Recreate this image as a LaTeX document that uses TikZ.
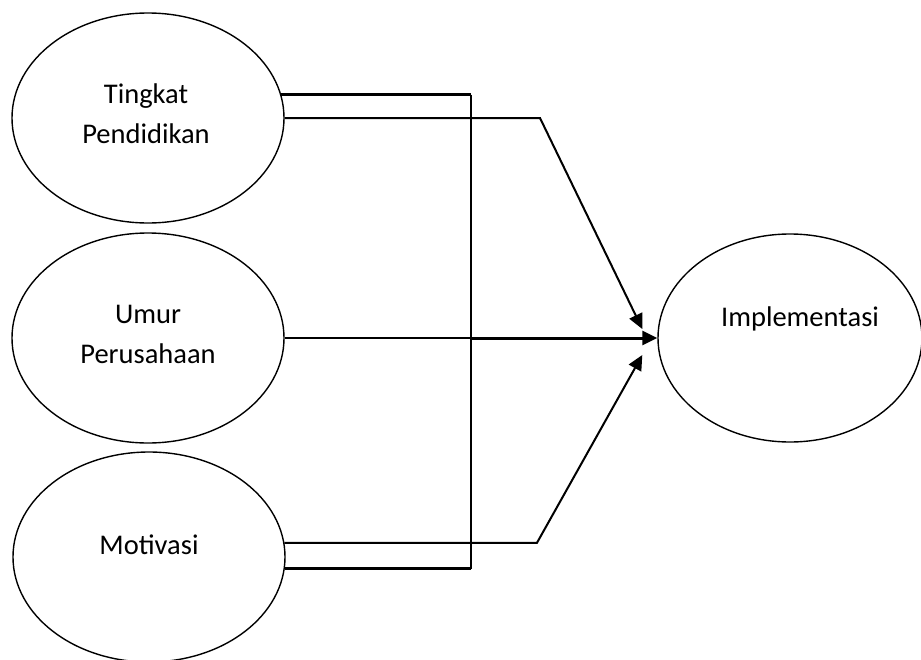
\documentclass[tikz,border=0pt]{standalone}
\usepackage{fontspec}
\setmainfont{Carlito}
\usetikzlibrary{shapes.geometric,arrows.meta,calc}
\begin{document}
\begin{tikzpicture}[x=1pt,y=-1pt,
  oval/.style={draw,ellipse,line width=1.4pt,minimum width=272pt,minimum height=210pt,inner sep=0pt},
  lbl/.style={font=\fontsize{28.5}{40}\selectfont,align=center,inner sep=0pt},
  thin/.style={line width=2pt},
  thk/.style={line width=3pt},
  arr/.style={-{Triangle[length=15pt,width=14pt]}}]
\useasboundingbox (0,0) rectangle (921,659);
\node[oval] (T) at (148,118) {};
\node[oval] (U) at (148,338) {};
\node[oval] (M) at (149,557) {};
\node[oval,minimum width=264pt,minimum height=208pt] (I) at (790,338) {};
\node[lbl] (tT) at (146,114) {Tingkat\\Pendidikan};
\node[lbl] (tU) at (148,334) {Umur\\Perusahaan};
\node[lbl] (tM) at (149,545) {Motivasi};
\node[lbl] (tI) at (800,319) {Implementasi};
\coordinate (vx) at (471,0);
\coordinate (bx1) at (540,0);
\coordinate (bx2) at (537,0);
\coordinate (tipA) at ($(I.west)+(-15,-9)$);
\coordinate (tipC) at ($(I.west)+(-15,17)$);
% bracket lines
\draw[thk] (T.10) -- (T.10 -| vx);
\draw[thk] (M.-5) -- (M.-5 -| vx);
\draw[thin] (T.10 -| vx) -- (M.-5 -| vx);
% arrows
\draw[thin,arr,line join=miter] (T.east) -- (T.east -| bx1) -- (tipA);
\draw[thin] (U.east) -- (U.east -| vx);
\draw[thk,arr] (U.east -| vx) -- (I.west);
\draw[thin,arr,line join=miter] (M.6) -- (M.6 -| bx2) -- (tipC);
\end{tikzpicture}
\end{document}
